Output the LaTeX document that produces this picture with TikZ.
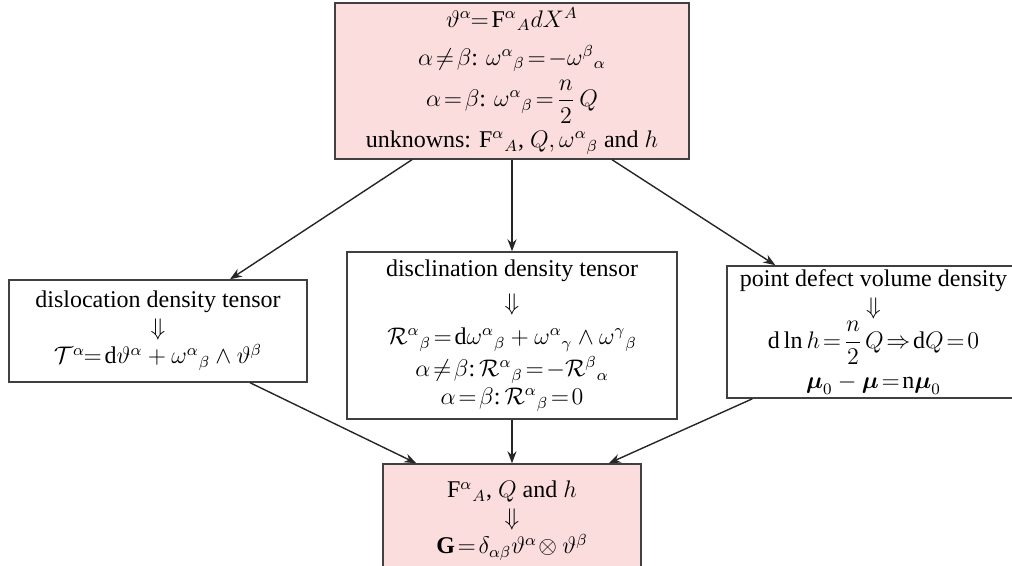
\documentclass[tikz,border=0pt]{standalone}
\usepackage{amsmath}
\usepackage{fontspec}
\setmainfont{Liberation Serif}
\usepackage{tikz}
\usetikzlibrary{arrows.meta}
\definecolor{boxpink}{RGB}{251,221,222}
\thickmuskip=2mu plus 2mu
\tikzset{
  px/.style={x=0.5pt, y=-0.5pt, font=\fontsize{12}{14}\selectfont},
  d box/.style={draw=black!75, line width=0.7pt, align=center, inner sep=2pt},
  d pink/.style={d box, fill=boxpink},
  d arr/.style={-{Stealth[length=6pt, width=4.5pt]}, line width=0.7pt, black!85},
}

\begin{document}
\begin{tikzpicture}[px]
\useasboundingbox (0,0) rectangle (1012,566);
\node[d pink, minimum width=177pt, minimum height=78pt] (frame) at (512,81)
  {$\vartheta^{\alpha}\!=\mathrm{F}^{\alpha}{}_{A}dX^{A}$\\[5pt]
   $\alpha\neq\beta$: $\omega^{\alpha}{}_{\beta}=-\omega^{\beta}{}_{\alpha}$\\[3pt]
   $\alpha=\beta$: $\omega^{\alpha}{}_{\beta}=\dfrac{n}{2}\,Q$\\[3pt]
   unknowns: $\mathrm{F}^{\alpha}{}_{A}$, $Q,\omega^{\alpha}{}_{\beta}$ and $h$};
\node[d box, minimum width=149pt, minimum height=51pt] (disl) at (158,331)
  {dislocation density tensor\\ $\Downarrow$\\
   $\mathcal{T}^{\alpha}\!=\mathrm{d}\vartheta^{\alpha}+\omega^{\alpha}{}_{\beta}\wedge\vartheta^{\beta}$};
\node[d box, minimum width=165pt, minimum height=83.5pt] (discl) at (512,335.5)
  {disclination density tensor\\[3pt] $\Downarrow$\\[3pt]
   $\mathcal{R}^{\alpha}{}_{\beta}=\mathrm{d}\omega^{\alpha}{}_{\beta}+\omega^{\alpha}{}_{\gamma}\wedge\omega^{\gamma}{}_{\beta}$\\[2pt]
   $\alpha\neq\beta$:\,$\mathcal{R}^{\alpha}{}_{\beta}=-\mathcal{R}^{\beta}{}_{\alpha}$\\
   $\alpha=\beta$:\,$\mathcal{R}^{\alpha}{}_{\beta}=0$};
\node[d box, minimum width=146.5pt, minimum height=62.5pt] (point) at (873.5,332)
  {point defect volume density\\ $\Downarrow$\\
   $\mathrm{d}\ln h=\dfrac{n}{2}\;Q\Rightarrow\mathrm{d}Q=0$\\[4pt]
   $\boldsymbol{\mu}_{0}-\boldsymbol{\mu}=\mathrm{n}\boldsymbol{\mu}_{0}$};
\node[d pink, minimum width=129pt, minimum height=57pt] (metric) at (512,521)
  {$\mathrm{F}^{\alpha}{}_{A}$, $Q$ and $h$\\ $\Downarrow$\\
   $\mathbf{G}=\delta_{\alpha\beta}\vartheta^{\alpha}\!\otimes\vartheta^{\beta}$};
% from the frame to the three densities
\draw[d arr] ([xshift=-50pt]frame.south) -- ([xshift=36pt]disl.north);
\draw[d arr] (frame.south) -- (discl.north);
\draw[d arr] ([xshift=50pt]frame.south) -- ([xshift=24.5pt]point.north west);
% and on to the metric
\draw[d arr] ([xshift=46pt]disl.south) -- ([xshift=17pt]metric.north west);
\draw[d arr] (discl.south) -- (metric.north);
\draw[d arr] ([xshift=13pt]point.south west) -- ([xshift=-16.5pt]metric.north east);
\end{tikzpicture}
\end{document}
